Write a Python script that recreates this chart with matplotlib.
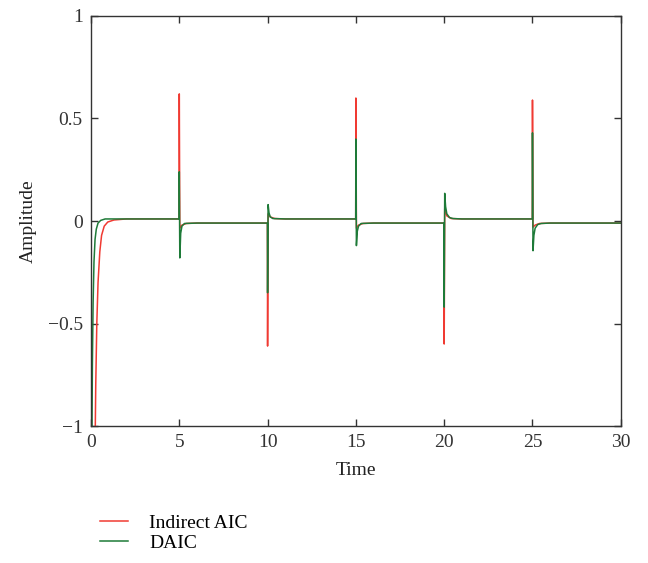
import matplotlib
matplotlib.use("Agg")
import matplotlib.pyplot as plt

plt.rcParams['font.family'] = ['Liberation Serif', 'DejaVu Serif']

# Indirect AIC (red) sample points
red_t = [0.0, 0.22, 0.27, 0.33, 0.40, 0.50, 0.60, 0.75, 0.95, 1.3, 2.0,
         4.99, 5.0, 5.03, 5.15, 5.4, 6.0,
         9.99, 10.0, 10.03, 10.15, 10.4, 11.0,
         14.99, 15.0, 15.03, 15.15, 15.4, 16.0,
         19.99, 20.0, 20.03, 20.15, 20.4, 21.0,
         24.99, 25.0, 25.03, 25.15, 25.4, 26.0, 30.0]
red_y = [-1.6, -1.2, -0.8, -0.5, -0.3, -0.15, -0.07, -0.025, -0.005, 0.005, 0.01,
         0.01, 0.62, -0.035, -0.02, -0.012, -0.01,
         -0.01, -0.61, 0.035, 0.02, 0.012, 0.01,
         0.01, 0.60, -0.035, -0.02, -0.012, -0.01,
         -0.01, -0.60, 0.06, 0.025, 0.012, 0.01,
         0.01, 0.59, -0.03, -0.02, -0.012, -0.01, -0.01]

# DAIC (green) sample points
green_t = [0.0, 0.05, 0.08, 0.12, 0.17, 0.23, 0.30, 0.40, 0.55, 0.8, 2.0,
           4.99, 5.0, 5.03, 5.08, 5.15, 5.3, 6.0,
           9.99, 10.0, 10.03, 10.08, 10.15, 10.3, 11.0,
           14.99, 15.0, 15.03, 15.08, 15.15, 15.3, 16.0,
           19.99, 20.0, 20.03, 20.08, 20.15, 20.3, 20.5, 21.0,
           24.99, 25.0, 25.03, 25.08, 25.15, 25.3, 25.5, 26.0, 30.0]
green_y = [-1.6, -1.1, -0.7, -0.4, -0.2, -0.09, -0.04, -0.01, 0.003, 0.01, 0.01,
           0.01, 0.24, -0.18, -0.06, -0.025, -0.012, -0.01,
           -0.01, -0.35, 0.08, 0.04, 0.02, 0.012, 0.01,
           0.01, 0.40, -0.12, -0.05, -0.025, -0.012, -0.01,
           -0.01, -0.42, 0.135, 0.07, 0.035, 0.017, 0.012, 0.01,
           0.01, 0.43, -0.145, -0.07, -0.035, -0.017, -0.012, -0.01, -0.01]

x_ticks = [0, 5, 10, 15, 20, 25, 30]
y_ticks = [-1, -0.5, 0, 0.5, 1]
y_ticklabels = ['\u22121', '\u22120.5', '0', '0.5', '1']

fig = plt.figure(figsize=(6.48, 5.63), dpi=100)
ax = fig.add_axes([0.1404, 0.2433, 0.8176, 0.7283])

l1, = ax.plot(red_t, red_y, color='#f03a32', lw=1.1, label='Indirect AIC')
l2, = ax.plot(green_t, green_y, color='#1e7a38', lw=1.1, label='DAIC')

ax.set_xlim(0, 30)
ax.set_ylim(-1, 1)
ax.set_xticks(x_ticks)
ax.set_yticks(y_ticks)
ax.set_yticklabels(y_ticklabels)
ax.tick_params(direction='in', top=True, right=True, labelsize=14, length=5, width=1,
               colors='#333333', pad=6)
for s in ax.spines.values():
    s.set_color('#333333')
    s.set_linewidth(1.0)
ax.set_xlabel('Time', fontsize=14, color='#222222', labelpad=8)
ax.set_ylabel('Amplitude', fontsize=14, color='#222222', labelpad=8)

leg = fig.legend(handles=[l1, l2], loc='upper left', frameon=False, fontsize=14,
                 handlelength=1.45, handletextpad=1.1, labelspacing=0.1, borderaxespad=0)
leg.set_bbox_to_anchor((0.142, 0.1), transform=fig.transFigure)

fig.savefig('out.png', dpi=100)
